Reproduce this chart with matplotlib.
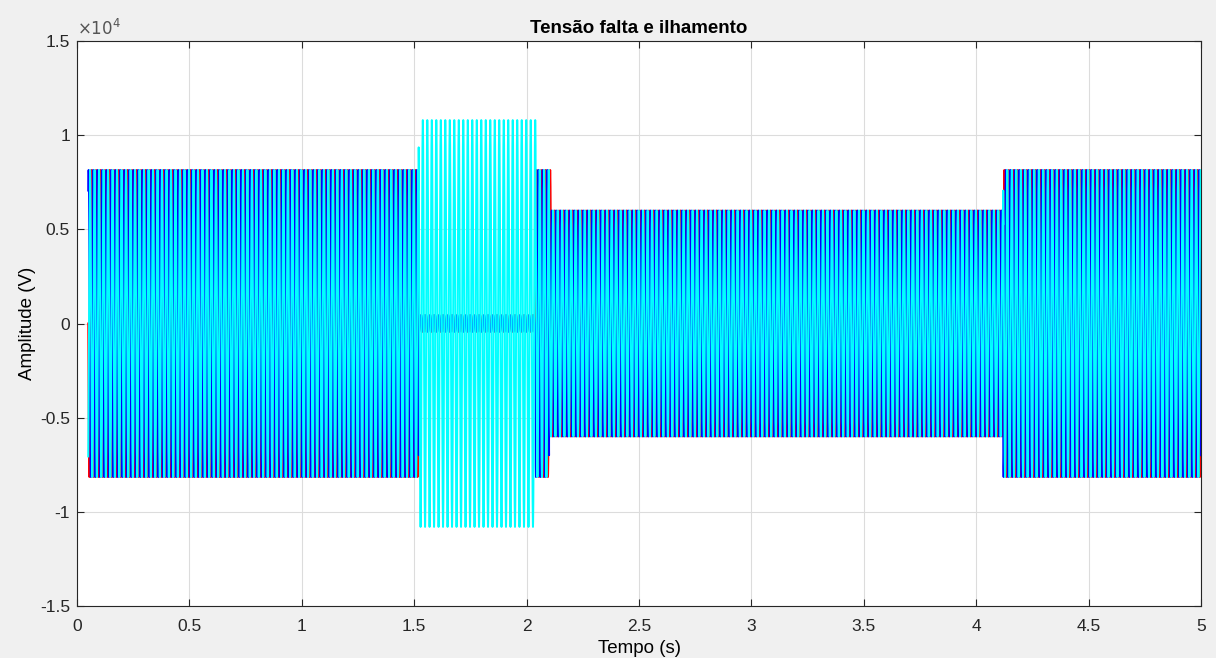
import numpy as np
import matplotlib.pyplot as plt

plt.rcParams['font.family'] = ['Liberation Sans', 'DejaVu Sans']

# envelope of each phase per segment (V)
t_seg = [0.05, 1.52, 2.04, 2.10, 4.12, 5.0]
amp_a = [8150, 450, 8150, 6000, 8150]
amp_b = [8150, 450, 8150, 6000, 8150]
amp_c = [8150, 10800, 8150, 6000, 8150]
# phase A changes a bit later at the islanding instant
lag_a = [0.0, 0.0, 0.0, 0.012, 0.0]
freq = 50.0
fs = 20000

yticks = [-1.5e4, -1e4, -0.5e4, 0, 0.5e4, 1e4, 1.5e4]
ylabels = ['-1.5', '-1', '-0.5', '0', '0.5', '1', '1.5']
xticks = [0, 0.5, 1, 1.5, 2, 2.5, 3, 3.5, 4, 4.5, 5]
xlabels = ['0', '0.5', '1', '1.5', '2', '2.5', '3', '3.5', '4', '4.5', '5']

t = np.arange(0, 5.0, 1.0 / fs)


def envelope(amps, lag=None):
    env = np.full_like(t, np.nan)
    for i, a in enumerate(amps):
        t0 = t_seg[i] + (lag[i] if lag else 0.0)
        t1 = t_seg[i + 1] + (lag[i + 1] if lag and i + 1 < len(lag) else 0.0)
        env[(t >= t0) & (t < t1 + 1e-9)] = a
    return env


va = envelope(amp_a, lag_a) * np.sin(2 * np.pi * freq * t)
vb = envelope(amp_b) * np.sin(2 * np.pi * freq * t - 2 * np.pi / 3)
vc = envelope(amp_c) * np.sin(2 * np.pi * freq * t + 2 * np.pi / 3)

fig = plt.figure(figsize=(12.16, 6.58), dpi=100, facecolor='#f0f0f0')
ax = fig.add_axes([0.0633, 0.079, 0.9244, 0.8587])
ax.plot(t, va, color='red', lw=1.4)
ax.plot(t, vb, color='blue', lw=1.4)
ax.plot(t, vc, color='cyan', lw=1.4)

ax.set_xlim(0, 5)
ax.set_ylim(-1.5e4, 1.5e4)
ax.set_xticks(xticks)
ax.set_xticklabels(xlabels)
ax.set_yticks(yticks)
ax.set_yticklabels(ylabels)
ax.text(0.0, 1.006, r'$\times10^4$', transform=ax.transAxes, fontsize=12,
        color='#555555', ha='left', va='bottom')

ax.grid(True, color='#dcdcdc', lw=0.8)
ax.set_axisbelow(True)
ax.tick_params(direction='in', top=True, right=True, labelsize=12.5, colors='#262626', length=5)
ax.tick_params(axis='x', pad=9)
ax.tick_params(axis='y', pad=5)
for s in ax.spines.values():
    s.set_color('#262626')
    s.set_linewidth(0.8)

ax.set_title('Tensão falta e ilhamento', fontsize=13.5, fontweight='bold', pad=6)
ax.set_xlabel('Tempo (s)', fontsize=13.5, labelpad=5)
ax.set_ylabel('Amplitude (V)', fontsize=13.5, labelpad=3)

fig.savefig('out.png', dpi=100, facecolor=fig.get_facecolor())
